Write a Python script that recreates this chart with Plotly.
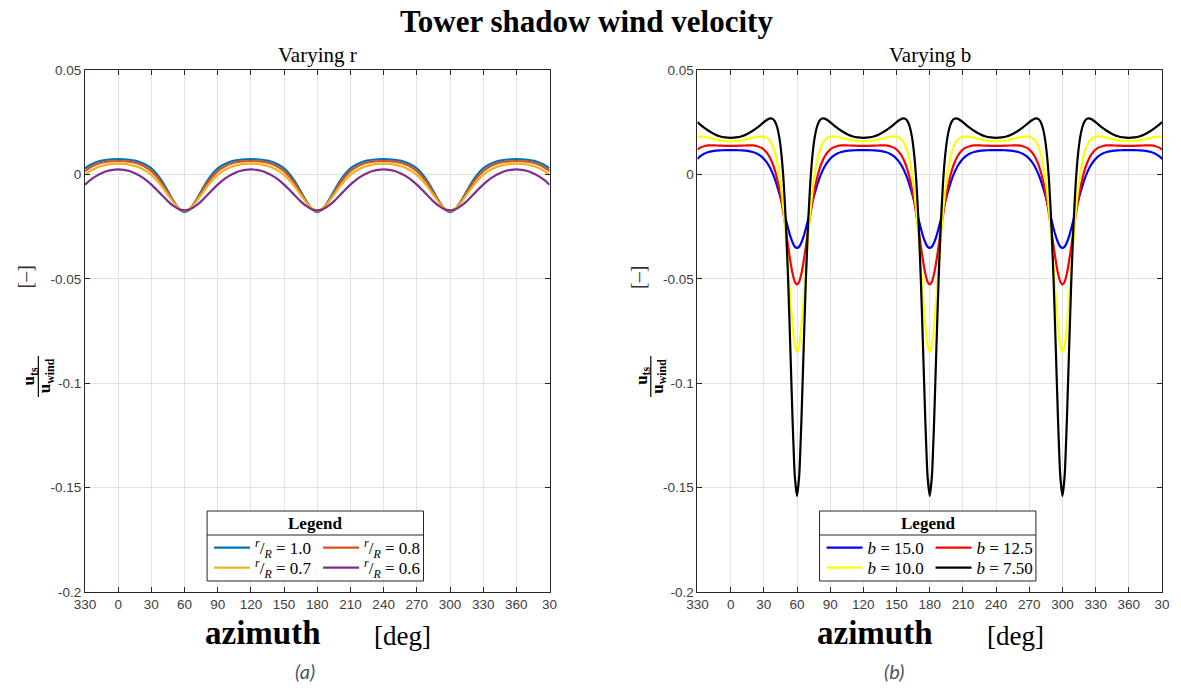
import plotly.graph_objects as go

# ---------------- data ----------------
x_ticks = [-30, 0, 30, 60, 90, 120, 150, 180, 210, 240, 270, 300, 330, 360, 390]
x_tick_labels = ['330', '0', '30', '60', '90', '120', '150', '180', '210', '240',
                 '270', '300', '330', '360', '30']
y_ticks = [0.05, 0, -0.05, -0.1, -0.15, -0.2]
y_tick_labels = ['0.05', '0', '-0.05', '-0.1', '-0.15', '-0.2']

# ---- (a) varying r ----
azimuth_r = list(range(-30, 395, 5))

u_r10 = [0.0029, 0.0046, 0.0058, 0.0066, 0.0070, 0.0072, 0.0073,
         0.0072, 0.0070, 0.0066, 0.0058, 0.0046, 0.0029, 0.0001, -0.0036, -0.0081, -0.0127, -0.0165, -0.0180,
         -0.0165, -0.0127, -0.0081, -0.0036, 0.0001, 0.0029, 0.0046, 0.0058, 0.0066, 0.0070, 0.0072, 0.0073,
         0.0072, 0.0070, 0.0066, 0.0058, 0.0046, 0.0029, 0.0001, -0.0036, -0.0081, -0.0127, -0.0165, -0.0180,
         -0.0165, -0.0127, -0.0081, -0.0036, 0.0001, 0.0029, 0.0046, 0.0058, 0.0066, 0.0070, 0.0072, 0.0073,
         0.0072, 0.0070, 0.0066, 0.0058, 0.0046, 0.0029, 0.0001, -0.0036, -0.0081, -0.0127, -0.0165, -0.0180,
         -0.0165, -0.0127, -0.0081, -0.0036, 0.0001, 0.0029, 0.0046, 0.0058, 0.0066, 0.0070, 0.0072, 0.0073,
         0.0072, 0.0070, 0.0066, 0.0058, 0.0046, 0.0029]

u_r08 = [0.0016, 0.0034, 0.0047, 0.0056, 0.0061, 0.0063, 0.0064,
         0.0063, 0.0061, 0.0056, 0.0047, 0.0034, 0.0016, -0.0011, -0.0046, -0.0088, -0.0130, -0.0164, -0.0177,
         -0.0164, -0.0130, -0.0088, -0.0046, -0.0011, 0.0016, 0.0034, 0.0047, 0.0056, 0.0061, 0.0063, 0.0064,
         0.0063, 0.0061, 0.0056, 0.0047, 0.0034, 0.0016, -0.0011, -0.0046, -0.0088, -0.0130, -0.0164, -0.0177,
         -0.0164, -0.0130, -0.0088, -0.0046, -0.0011, 0.0016, 0.0034, 0.0047, 0.0056, 0.0061, 0.0063, 0.0064,
         0.0063, 0.0061, 0.0056, 0.0047, 0.0034, 0.0016, -0.0011, -0.0046, -0.0088, -0.0130, -0.0164, -0.0177,
         -0.0164, -0.0130, -0.0088, -0.0046, -0.0011, 0.0016, 0.0034, 0.0047, 0.0056, 0.0061, 0.0063, 0.0064,
         0.0063, 0.0061, 0.0056, 0.0047, 0.0034, 0.0016]

u_r07 = [-0.0002, 0.0017, 0.0031, 0.0040, 0.0047, 0.0050, 0.0051,
         0.0050, 0.0047, 0.0040, 0.0031, 0.0017, -0.0002, -0.0029, -0.0061, -0.0098, -0.0134, -0.0163, -0.0174,
         -0.0163, -0.0134, -0.0098, -0.0061, -0.0029, -0.0002, 0.0017, 0.0031, 0.0040, 0.0047, 0.0050, 0.0051,
         0.0050, 0.0047, 0.0040, 0.0031, 0.0017, -0.0002, -0.0029, -0.0061, -0.0098, -0.0134, -0.0163, -0.0174,
         -0.0163, -0.0134, -0.0098, -0.0061, -0.0029, -0.0002, 0.0017, 0.0031, 0.0040, 0.0047, 0.0050, 0.0051,
         0.0050, 0.0047, 0.0040, 0.0031, 0.0017, -0.0002, -0.0029, -0.0061, -0.0098, -0.0134, -0.0163, -0.0174,
         -0.0163, -0.0134, -0.0098, -0.0061, -0.0029, -0.0002, 0.0017, 0.0031, 0.0040, 0.0047, 0.0050, 0.0051,
         0.0050, 0.0047, 0.0040, 0.0031, 0.0017, -0.0002]

u_r06 = [-0.0049, -0.0026, -0.0008, 0.0006, 0.0016, 0.0022, 0.0024,
         0.0022, 0.0016, 0.0006, -0.0008, -0.0026, -0.0049, -0.0075, -0.0102, -0.0129, -0.0151, -0.0167, -0.0172,
         -0.0167, -0.0151, -0.0129, -0.0102, -0.0075, -0.0049, -0.0026, -0.0008, 0.0006, 0.0016, 0.0022, 0.0024,
         0.0022, 0.0016, 0.0006, -0.0008, -0.0026, -0.0049, -0.0075, -0.0102, -0.0129, -0.0151, -0.0167, -0.0172,
         -0.0167, -0.0151, -0.0129, -0.0102, -0.0075, -0.0049, -0.0026, -0.0008, 0.0006, 0.0016, 0.0022, 0.0024,
         0.0022, 0.0016, 0.0006, -0.0008, -0.0026, -0.0049, -0.0075, -0.0102, -0.0129, -0.0151, -0.0167, -0.0172,
         -0.0167, -0.0151, -0.0129, -0.0102, -0.0075, -0.0049, -0.0026, -0.0008, 0.0006, 0.0016, 0.0022, 0.0024,
         0.0022, 0.0016, 0.0006, -0.0008, -0.0026, -0.0049]

# ---- (b) varying b ----
azimuth_b = [-30, -28, -24, -20, -15, -10, -5, 0,
             5, 10, 15, 20, 24, 28, 32, 35, 38, 40, 42, 44, 46, 48, 50, 52, 54, 56, 58, 60,
             62, 64, 66, 68, 70, 72, 74, 76, 78, 80, 82, 85, 88, 92, 96, 100, 105, 110, 115, 120,
             125, 130, 135, 140, 144, 148, 152, 155, 158, 160, 162, 164, 166, 168, 170, 172, 174, 176, 178, 180,
             182, 184, 186, 188, 190, 192, 194, 196, 198, 200, 202, 205, 208, 212, 216, 220, 225, 230, 235, 240,
             245, 250, 255, 260, 264, 268, 272, 275, 278, 280, 282, 284, 286, 288, 290, 292, 294, 296, 298, 300,
             302, 304, 306, 308, 310, 312, 314, 316, 318, 320, 322, 325, 328, 332, 336, 340, 345, 350, 355, 360,
             365, 370, 375, 380, 384, 388, 390]

u_b150 = [0.0074, 0.0085, 0.0099, 0.0107, 0.0113, 0.0115, 0.0116, 0.0116,
          0.0116, 0.0115, 0.0113, 0.0107, 0.0099, 0.0085, 0.0062, 0.0038, 0.0005, -0.0023, -0.0055, -0.0091, -0.0131, -0.0174, -0.0217, -0.0259, -0.0297, -0.0326, -0.0346, -0.0352,
          -0.0346, -0.0326, -0.0297, -0.0259, -0.0217, -0.0174, -0.0131, -0.0091, -0.0055, -0.0023, 0.0005, 0.0038, 0.0062, 0.0085, 0.0099, 0.0107, 0.0113, 0.0115, 0.0116, 0.0116,
          0.0116, 0.0115, 0.0113, 0.0107, 0.0099, 0.0085, 0.0062, 0.0038, 0.0005, -0.0023, -0.0055, -0.0091, -0.0131, -0.0174, -0.0217, -0.0259, -0.0297, -0.0326, -0.0346, -0.0352,
          -0.0346, -0.0326, -0.0297, -0.0259, -0.0217, -0.0174, -0.0131, -0.0091, -0.0055, -0.0023, 0.0005, 0.0038, 0.0062, 0.0085, 0.0099, 0.0107, 0.0113, 0.0115, 0.0116, 0.0116,
          0.0116, 0.0115, 0.0113, 0.0107, 0.0099, 0.0085, 0.0062, 0.0038, 0.0005, -0.0023, -0.0055, -0.0091, -0.0131, -0.0174, -0.0217, -0.0259, -0.0297, -0.0326, -0.0346, -0.0352,
          -0.0346, -0.0326, -0.0297, -0.0259, -0.0217, -0.0174, -0.0131, -0.0091, -0.0055, -0.0023, 0.0005, 0.0038, 0.0062, 0.0085, 0.0099, 0.0107, 0.0113, 0.0115, 0.0116, 0.0116,
          0.0116, 0.0115, 0.0113, 0.0107, 0.0099, 0.0085, 0.0074]

u_b125 = [0.0118, 0.0127, 0.0135, 0.0139, 0.0139, 0.0138, 0.0137, 0.0137,
          0.0137, 0.0138, 0.0139, 0.0139, 0.0135, 0.0127, 0.0109, 0.0086, 0.0051, 0.0019, -0.0021, -0.0070, -0.0129, -0.0197, -0.0270, -0.0345, -0.0416, -0.0475, -0.0514, -0.0527,
          -0.0514, -0.0475, -0.0416, -0.0345, -0.0270, -0.0197, -0.0129, -0.0070, -0.0021, 0.0019, 0.0051, 0.0086, 0.0109, 0.0127, 0.0135, 0.0139, 0.0139, 0.0138, 0.0137, 0.0137,
          0.0137, 0.0138, 0.0139, 0.0139, 0.0135, 0.0127, 0.0109, 0.0086, 0.0051, 0.0019, -0.0021, -0.0070, -0.0129, -0.0197, -0.0270, -0.0345, -0.0416, -0.0475, -0.0514, -0.0527,
          -0.0514, -0.0475, -0.0416, -0.0345, -0.0270, -0.0197, -0.0129, -0.0070, -0.0021, 0.0019, 0.0051, 0.0086, 0.0109, 0.0127, 0.0135, 0.0139, 0.0139, 0.0138, 0.0137, 0.0137,
          0.0137, 0.0138, 0.0139, 0.0139, 0.0135, 0.0127, 0.0109, 0.0086, 0.0051, 0.0019, -0.0021, -0.0070, -0.0129, -0.0197, -0.0270, -0.0345, -0.0416, -0.0475, -0.0514, -0.0527,
          -0.0514, -0.0475, -0.0416, -0.0345, -0.0270, -0.0197, -0.0129, -0.0070, -0.0021, 0.0019, 0.0051, 0.0086, 0.0109, 0.0127, 0.0135, 0.0139, 0.0139, 0.0138, 0.0137, 0.0137,
          0.0137, 0.0138, 0.0139, 0.0139, 0.0135, 0.0127, 0.0118]

u_b100 = [0.0180, 0.0182, 0.0180, 0.0176, 0.0169, 0.0163, 0.0160, 0.0159,
          0.0160, 0.0163, 0.0169, 0.0176, 0.0180, 0.0182, 0.0177, 0.0164, 0.0136, 0.0106, 0.0063, 0.0003, -0.0078, -0.0181, -0.0307, -0.0449, -0.0595, -0.0726, -0.0818, -0.0850,
          -0.0818, -0.0726, -0.0595, -0.0449, -0.0307, -0.0181, -0.0078, 0.0003, 0.0063, 0.0106, 0.0136, 0.0164, 0.0177, 0.0182, 0.0180, 0.0176, 0.0169, 0.0163, 0.0160, 0.0159,
          0.0160, 0.0163, 0.0169, 0.0176, 0.0180, 0.0182, 0.0177, 0.0164, 0.0136, 0.0106, 0.0063, 0.0003, -0.0078, -0.0181, -0.0307, -0.0449, -0.0595, -0.0726, -0.0818, -0.0850,
          -0.0818, -0.0726, -0.0595, -0.0449, -0.0307, -0.0181, -0.0078, 0.0003, 0.0063, 0.0106, 0.0136, 0.0164, 0.0177, 0.0182, 0.0180, 0.0176, 0.0169, 0.0163, 0.0160, 0.0159,
          0.0160, 0.0163, 0.0169, 0.0176, 0.0180, 0.0182, 0.0177, 0.0164, 0.0136, 0.0106, 0.0063, 0.0003, -0.0078, -0.0181, -0.0307, -0.0449, -0.0595, -0.0726, -0.0818, -0.0850,
          -0.0818, -0.0726, -0.0595, -0.0449, -0.0307, -0.0181, -0.0078, 0.0003, 0.0063, 0.0106, 0.0136, 0.0164, 0.0177, 0.0182, 0.0180, 0.0176, 0.0169, 0.0163, 0.0160, 0.0159,
          0.0160, 0.0163, 0.0169, 0.0176, 0.0180, 0.0182, 0.0180]

u_b075 = [0.0250, 0.0241, 0.0224, 0.0209, 0.0194, 0.0183, 0.0177, 0.0175,
          0.0177, 0.0183, 0.0194, 0.0209, 0.0224, 0.0241, 0.0258, 0.0267, 0.0266, 0.0254, 0.0227, 0.0177, 0.0092, -0.0042, -0.0240, -0.0509, -0.0837, -0.1177, -0.1443, -0.1540,
          -0.1443, -0.1177, -0.0837, -0.0509, -0.0240, -0.0042, 0.0092, 0.0177, 0.0227, 0.0254, 0.0266, 0.0267, 0.0258, 0.0241, 0.0224, 0.0209, 0.0194, 0.0183, 0.0177, 0.0175,
          0.0177, 0.0183, 0.0194, 0.0209, 0.0224, 0.0241, 0.0258, 0.0267, 0.0266, 0.0254, 0.0227, 0.0177, 0.0092, -0.0042, -0.0240, -0.0509, -0.0837, -0.1177, -0.1443, -0.1540,
          -0.1443, -0.1177, -0.0837, -0.0509, -0.0240, -0.0042, 0.0092, 0.0177, 0.0227, 0.0254, 0.0266, 0.0267, 0.0258, 0.0241, 0.0224, 0.0209, 0.0194, 0.0183, 0.0177, 0.0175,
          0.0177, 0.0183, 0.0194, 0.0209, 0.0224, 0.0241, 0.0258, 0.0267, 0.0266, 0.0254, 0.0227, 0.0177, 0.0092, -0.0042, -0.0240, -0.0509, -0.0837, -0.1177, -0.1443, -0.1540,
          -0.1443, -0.1177, -0.0837, -0.0509, -0.0240, -0.0042, 0.0092, 0.0177, 0.0227, 0.0254, 0.0266, 0.0267, 0.0258, 0.0241, 0.0224, 0.0209, 0.0194, 0.0183, 0.0177, 0.0175,
          0.0177, 0.0183, 0.0194, 0.0209, 0.0224, 0.0241, 0.0250]

names_r = ['<sup><i>r</i></sup>/<sub><i>R</i></sub> = 1.0', '<sup><i>r</i></sup>/<sub><i>R</i></sub> = 0.8',
           '<sup><i>r</i></sup>/<sub><i>R</i></sub> = 0.7', '<sup><i>r</i></sup>/<sub><i>R</i></sub> = 0.6']
names_b = ['<i>b</i> = 15.0', '<i>b</i> = 12.5', '<i>b</i> = 10.0', '<i>b</i> = 7.50']
colors_r = ['#0072BD', '#D95319', '#EDB120', '#7E2F8E']
colors_b = ['#0000FF', '#FF0000', '#FFFF00', '#000000']

# ---------------- layout helpers ----------------
W, H = 1181, 692
ML, MR, MT, MB = 85, 11, 70, 100
PW = W - ML - MR
PH = H - MT - MB


def px(x):
    return (x - ML) / PW


def py(y):
    return (H - MB - y) / PH


SERIF = 'Liberation Serif, Times New Roman, serif'
SANS = 'Liberation Sans, Arial, sans-serif'

fig = go.Figure()

series_r = [u_r10, u_r08, u_r07, u_r06]
legs_r = ['legend', 'legend', 'legend2', 'legend2']
for vals, nm, col, lg in zip(series_r, names_r, colors_r, legs_r):
    fig.add_trace(go.Scatter(x=azimuth_r, y=vals, mode='lines', name=nm,
                             line=dict(color=col, width=2.2, shape='spline', smoothing=0.6),
                             xaxis='x', yaxis='y', legend=lg))

series_b = [u_b150, u_b125, u_b100, u_b075]
legs_b = ['legend3', 'legend3', 'legend4', 'legend4']
for vals, nm, col, lg in zip(series_b, names_b, colors_b, legs_b):
    fig.add_trace(go.Scatter(x=azimuth_b, y=vals, mode='lines', name=nm,
                             line=dict(color=col, width=2.2, shape='spline', smoothing=0.5),
                             xaxis='x2', yaxis='y2', legend=lg))

axis_common = dict(showline=True, linecolor='#262626', linewidth=1, mirror='ticks',
                   ticks='inside', ticklen=5, tickcolor='#262626', showgrid=True,
                   gridcolor='#e2e2e2', gridwidth=1, zeroline=False,
                   tickfont=dict(family=SANS, size=13.5, color='#404040'))

xa = dict(axis_common, range=[-30, 390], tickmode='array', tickvals=x_ticks, ticktext=x_tick_labels)
ya = dict(axis_common, range=[-0.2, 0.05], tickmode='array', tickvals=y_ticks, ticktext=y_tick_labels)

dom_l = [0, px(553)]
dom_r = [px(702), 1]

leg_common = dict(orientation='h', xanchor='left', yanchor='middle', bgcolor='rgba(0,0,0,0)',
                  borderwidth=0, font=dict(family=SERIF, size=17, color='#000000'),
                  itemwidth=36, entrywidth=58, entrywidthmode='pixels', tracegroupgap=0,
                  itemclick=False, itemdoubleclick=False)

box_l = (208, 426)
box_r = (825, 1043)
box_top, box_bot, box_sep = 511, 581, 535
row1, row2 = 548, 568

fig.update_layout(
    width=W, height=H,
    margin=dict(l=ML, r=MR, t=MT, b=MB),
    paper_bgcolor='white', plot_bgcolor='white',
    xaxis=dict(xa, domain=dom_l, anchor='y'),
    yaxis=dict(ya, domain=[0, 1], anchor='x'),
    xaxis2=dict(xa, domain=dom_r, anchor='y2'),
    yaxis2=dict(ya, domain=[0, 1], anchor='x2'),
    legend=dict(leg_common, x=px(box_l[0] + 2), y=py(row1)),
    legend2=dict(leg_common, x=px(box_l[0] + 2), y=py(row2)),
    legend3=dict(leg_common, x=px(box_r[0] + 2), y=py(row1)),
    legend4=dict(leg_common, x=px(box_r[0] + 2), y=py(row2)),
    showlegend=True,
)

shapes = []
for (bx0, bx1) in (box_l, box_r):
    shapes.append(dict(type='rect', xref='paper', yref='paper', x0=px(bx0), x1=px(bx1),
                       y0=py(box_bot), y1=py(box_top), line=dict(color='#262626', width=1),
                       fillcolor='white', layer='above'))
    shapes.append(dict(type='line', xref='paper', yref='paper', x0=px(bx0), x1=px(bx1),
                       y0=py(box_sep), y1=py(box_sep), line=dict(color='#262626', width=1),
                       layer='above'))

annotations = []


def ann(text, x, y, size, family=SERIF, color='#000000', angle=0, **kw):
    annotations.append(dict(text=text, x=px(x), y=py(y), xref='paper', yref='paper',
                            showarrow=False, textangle=angle, xanchor='center', yanchor='middle',
                            font=dict(family=family, size=size, color=color), **kw))


ann('<b>Tower shadow wind velocity</b>', 590, 21, 31)
for dx, sub, cap, cap_x, (bx0, bx1) in ((0, 'Varying r', '(a)', 307, box_l),
                                         (617, 'Varying b', '(b)', 900, box_r)):
    cx = 319 + dx
    ann(sub, cx, 55, 21)
    ann('<b>azimuth</b>', 264 + dx, 633, 33)
    ann('[deg]', 405 + dx, 636, 27)
    ann('<i>' + cap + '</i>', cap_x, 671, 20, family='Lato, Open Sans, sans-serif', color='#44546A')
    ann('<b>Legend</b>', (bx0 + bx1) / 2, 523, 17)
    # y-axis label: fraction u_ts / u_wind and unit bracket
    ann('<b>u<sub>ts</sub></b>', 30 + dx, 376, 17, angle=-90)
    ann('<b>u<sub>wind</sub></b>', 46 + dx, 376, 17, angle=-90)
    ann('[\u2013]', 25 + dx, 277, 20, color='#333333', angle=-90)
    shapes.append(dict(type='line', xref='paper', yref='paper', x0=px(38 + dx), x1=px(38 + dx),
                       y0=py(356), y1=py(397), line=dict(color='#000000', width=1.2)))

fig.update_layout(shapes=shapes, annotations=annotations)

fig.write_html('out.html', config={'displayModeBar': False},
               post_script="document.body.style.margin='0px';")
